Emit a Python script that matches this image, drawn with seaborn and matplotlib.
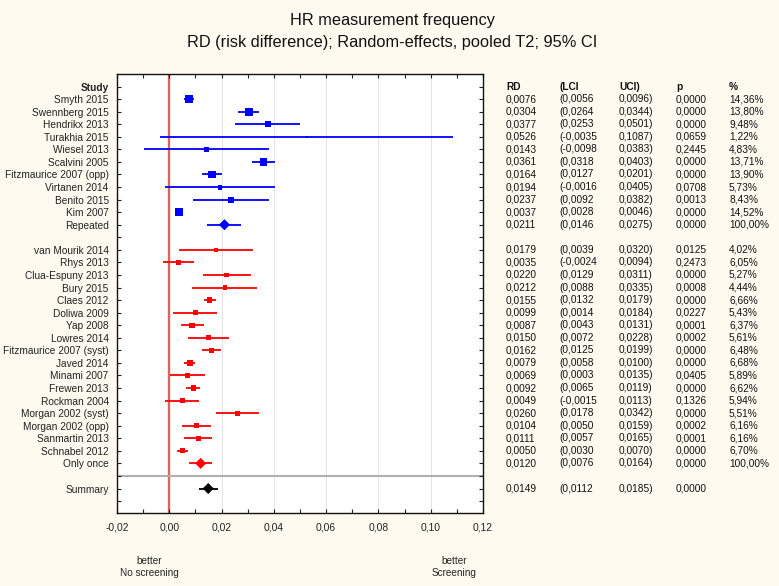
import numpy as np
import pandas as pd
import matplotlib
matplotlib.use("Agg")
import matplotlib.pyplot as plt
import matplotlib.transforms as mtransforms
from matplotlib.ticker import MultipleLocator, FixedLocator
import seaborn as sns

# ---------------- data ----------------
studies_rep = ["Smyth 2015", "Swennberg 2015", "Hendrikx 2013", "Turakhia 2015", "Wiesel 2013",
               "Scalvini 2005", "Fitzmaurice 2007 (opp)", "Virtanen 2014", "Benito 2015", "Kim 2007"]
rd_rep = [0.0076, 0.0304, 0.0377, 0.0526, 0.0143, 0.0361, 0.0164, 0.0194, 0.0237, 0.0037]
lci_rep = [0.0056, 0.0264, 0.0253, -0.0035, -0.0098, 0.0318, 0.0127, -0.0016, 0.0092, 0.0028]
uci_rep = [0.0096, 0.0344, 0.0501, 0.1087, 0.0383, 0.0403, 0.0201, 0.0405, 0.0382, 0.0046]
p_rep = [0.0000, 0.0000, 0.0000, 0.0659, 0.2445, 0.0000, 0.0000, 0.0708, 0.0013, 0.0000]
w_rep = [14.36, 13.80, 9.48, 1.22, 4.83, 13.71, 13.90, 5.73, 8.43, 14.52]
pooled_rep = ["Repeated", 0.0211, 0.0146, 0.0275, 0.0000, 100.00]

studies_once = ["van Mourik 2014", "Rhys 2013", "Clua-Espuny 2013", "Bury 2015", "Claes 2012",
                "Doliwa 2009", "Yap 2008", "Lowres 2014", "Fitzmaurice 2007 (syst)", "Javed 2014",
                "Minami 2007", "Frewen 2013", "Rockman 2004", "Morgan 2002 (syst)", "Morgan 2002 (opp)",
                "Sanmartin 2013", "Schnabel 2012"]
rd_once = [0.0179, 0.0035, 0.0220, 0.0212, 0.0155, 0.0099, 0.0087, 0.0150, 0.0162, 0.0079,
           0.0069, 0.0092, 0.0049, 0.0260, 0.0104, 0.0111, 0.0050]
lci_once = [0.0039, -0.0024, 0.0129, 0.0088, 0.0132, 0.0014, 0.0043, 0.0072, 0.0125, 0.0058,
            0.0003, 0.0065, -0.0015, 0.0178, 0.0050, 0.0057, 0.0030]
uci_once = [0.0320, 0.0094, 0.0311, 0.0335, 0.0179, 0.0184, 0.0131, 0.0228, 0.0199, 0.0100,
            0.0135, 0.0119, 0.0113, 0.0342, 0.0159, 0.0165, 0.0070]
p_once = [0.0125, 0.2473, 0.0000, 0.0008, 0.0000, 0.0227, 0.0001, 0.0002, 0.0000, 0.0000,
          0.0405, 0.0000, 0.1326, 0.0000, 0.0002, 0.0001, 0.0000]
w_once = [4.02, 6.05, 5.27, 4.44, 6.66, 5.43, 6.37, 5.61, 6.48, 6.68,
          5.89, 6.62, 5.94, 5.51, 6.16, 6.16, 6.70]
pooled_once = ["Only once", 0.0120, 0.0076, 0.0164, 0.0000, 100.00]

summary = ["Summary", 0.0149, 0.0112, 0.0185, 0.0000]

x_ticks = [-0.02, 0.00, 0.02, 0.04, 0.06, 0.08, 0.10, 0.12]
x_tick_labels = ["-0,02", "0,00", "0,02", "0,04", "0,06", "0,08", "0,10", "0,12"]
headers = ["RD", "(LCI", "UCI)", "p", "%"]

# ---------------- build tables ----------------
rows_rep = list(range(1, 1 + len(studies_rep)))
row_pool_rep = rows_rep[-1] + 1
rows_once = list(range(row_pool_rep + 2, row_pool_rep + 2 + len(studies_once)))
row_pool_once = rows_once[-1] + 1
row_sep = row_pool_once + 1
row_sum = row_sep + 1
n_rows = row_sum + 2

df_st = pd.DataFrame({
    "study": studies_rep + studies_once,
    "rd": rd_rep + rd_once, "lci": lci_rep + lci_once, "uci": uci_rep + uci_once,
    "p": p_rep + p_once, "w": w_rep + w_once,
    "row": rows_rep + rows_once,
    "group": ["rep"] * len(studies_rep) + ["once"] * len(studies_once),
})
df_pool = pd.DataFrame({
    "study": [pooled_rep[0], pooled_once[0], summary[0]],
    "rd": [pooled_rep[1], pooled_once[1], summary[1]],
    "lci": [pooled_rep[2], pooled_once[2], summary[2]],
    "uci": [pooled_rep[3], pooled_once[3], summary[3]],
    "p": [pooled_rep[4], pooled_once[4], summary[4]],
    "w": [pooled_rep[5], pooled_once[5], np.nan],
    "row": [row_pool_rep, row_pool_once, row_sum],
    "group": ["rep", "once", "sum"],
})
palette = {"rep": "#0000ff", "once": "#ff0000", "sum": "#000000"}

# ---------------- figure ----------------
bg = "#fefaf0"
plt.rcParams["font.family"] = ["Liberation Sans", "DejaVu Sans"]
fig = plt.figure(figsize=(7.79, 5.86), dpi=100, facecolor=bg)
ax = fig.add_axes([117 / 779, 1 - 513 / 586, (483 - 117) / 779, (513 - 74) / 586])
ax.set_facecolor("white")

ax.set_xlim(-0.02, 0.12)
ax.set_ylim(n_rows - 1 + 0.95, -1)

# grid
for xv in x_ticks[1:-1]:
    ax.axvline(xv, color="#e4e4e4", lw=0.8, zorder=0)
ax.axvline(0.0, color="#d86464", lw=1.7, zorder=1)
ax.axhline(row_sep, color="#b0b0b0", lw=1.5, zorder=1)

# CI lines
allci = pd.concat([df_st, df_pool])
for g, sub in allci.groupby("group"):
    ax.hlines(sub["row"], sub["lci"], sub["uci"], colors=palette[g], lw=1.3, zorder=2)

# study squares (area proportional to weight)
k = 2.2
sns.scatterplot(data=df_st, x="rd", y="row", hue="group", palette=palette,
                size="w", sizes=(0, k * 100), size_norm=(0, 100),
                marker="s", linewidth=0, legend=False, ax=ax, zorder=3)
# pooled diamonds
sns.scatterplot(data=df_pool, x="rd", y="row", hue="group", palette=palette,
                marker="D", s=32, linewidth=0, legend=False, ax=ax, zorder=3)

ax.set_xlabel("")
ax.set_ylabel("")

# ticks
ax.xaxis.set_major_locator(FixedLocator(x_ticks))
ax.set_xticklabels(x_tick_labels)
ax.xaxis.set_minor_locator(MultipleLocator(0.01))
ax.tick_params(axis="x", which="both", direction="in", top=True, bottom=True,
               length=3, width=0.8, labelsize=7.4, pad=6.5, colors="#222222")

ylabels = [""] * n_rows
ylabels[0] = "Study"
for s, r in zip(df_st["study"], df_st["row"]):
    ylabels[r] = s
for s, r in zip(df_pool["study"], df_pool["row"]):
    ylabels[r] = s
ax.set_yticks(range(n_rows))
ax.set_yticklabels(ylabels)
ax.tick_params(axis="y", which="both", direction="in", left=True, right=True,
               length=3, width=0.8, labelsize=7.3, pad=6, colors="#222222")
ax.get_yticklabels()[0].set_fontweight("bold")

for sp in ax.spines.values():
    sp.set_color("#111111")
    sp.set_linewidth(1.0)

# table
tr = mtransforms.blended_transform_factory(fig.transFigure, ax.transData)
col_x = [506 / 779, 559 / 779, 619 / 779, 676 / 779, 729 / 779]
fs = 7.3
def f4(v):
    return f"{v:.4f}".replace(".", ",")
for cx, h in zip(col_x, headers):
    fig.text(cx, 0, h, transform=tr, ha="left", va="center", fontsize=fs, fontweight="bold", color="#111111")
for _, r in allci.iterrows():
    vals = [f4(r["rd"]), "(" + f4(r["lci"]), f4(r["uci"]) + ")", f4(r["p"])]
    if not np.isnan(r["w"]):
        vals.append(f"{r['w']:.2f}%".replace(".", ","))
    for cx, t in zip(col_x, vals):
        fig.text(cx, r["row"], t, transform=tr, ha="left", va="center", fontsize=fs, color="#111111")

# titles
fig.text(392 / 779, 1 - 21 / 586, "HR measurement frequency", ha="center", va="center", fontsize=11.8, color="#111111")
fig.text(392 / 779, 1 - 42 / 586, "RD (risk difference); Random-effects, pooled T2; 95% CI",
         ha="center", va="center", fontsize=11.8, color="#111111")

fig.text(149 / 779, 1 - 567 / 586, "better\nNo screening", ha="center", va="center", fontsize=7.2,
         linespacing=1.35, color="#222222")
fig.text(454 / 779, 1 - 567 / 586, "better\nScreening", ha="center", va="center", fontsize=7.2,
         linespacing=1.35, color="#222222")

fig.savefig("out.png", dpi=100, facecolor=bg)
